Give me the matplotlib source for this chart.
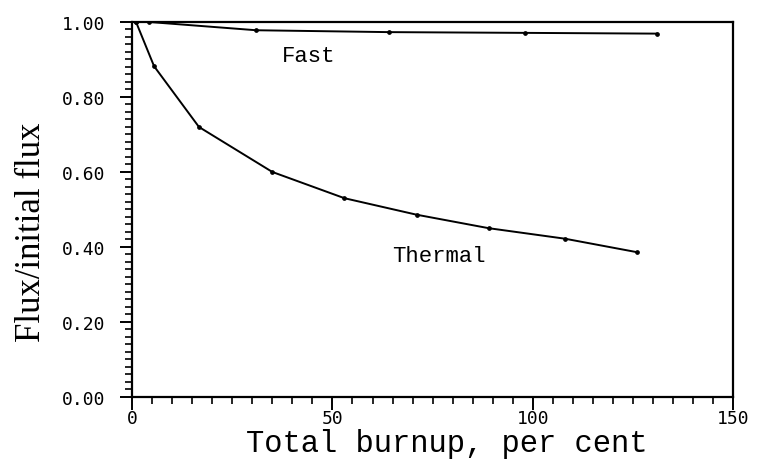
import matplotlib
matplotlib.use("Agg")
import matplotlib.pyplot as plt
from matplotlib.ticker import MultipleLocator, FormatStrFormatter

# Data
thermal_x = [1, 5.5, 16.7, 35, 53, 71, 89, 108, 126]
thermal_y = [1.00, 0.882, 0.720, 0.600, 0.530, 0.486, 0.450, 0.422, 0.386]
fast_x = [1, 4.3, 31, 64, 98, 131]
fast_y = [1.00, 1.00, 0.978, 0.973, 0.971, 0.969]

x_major = [0, 50, 100, 150]
y_major = [0.0, 0.2, 0.4, 0.6, 0.8, 1.0]

plt.rcParams["font.family"] = ["DejaVu Sans Mono"]
plt.rcParams["xtick.labelsize"] = 13
plt.rcParams["ytick.labelsize"] = 13

fig = plt.figure(figsize=(7.61, 4.60), dpi=100)
ax = fig.add_axes([0.1735, 0.135, 0.790, 0.815])

ax.plot(thermal_x, thermal_y, color="black", lw=1.4, marker="o", ms=2.4)
ax.plot(fast_x, fast_y, color="black", lw=1.4, marker="o", ms=2.4)

ax.set_xlim(0, 150)
ax.set_ylim(0, 1.0)
ax.set_xticks(x_major)
ax.set_yticks(y_major)
ax.xaxis.set_minor_locator(MultipleLocator(5))
ax.yaxis.set_minor_locator(MultipleLocator(0.02))
ax.yaxis.set_major_formatter(FormatStrFormatter("%.2f"))
ax.xaxis.set_major_formatter(FormatStrFormatter("%d"))

for s in ax.spines.values():
    s.set_linewidth(1.6)

ax.tick_params(which="major", direction="out", length=9, width=1.4,
               top=False, right=False)
ax.tick_params(which="minor", direction="out", length=5, width=1.2,
               top=False, right=False)
ax.tick_params(axis="y", which="major", pad=10)
ax.tick_params(axis="x", which="major", pad=0)

ax.set_xlabel("Total burnup, per cent", family="Liberation Mono",
              fontsize=22)
ax.xaxis.set_label_coords(0.524, -0.083)
ax.xaxis.label.set_va("top")
ax.set_ylabel("Flux/initial flux", family="Liberation Serif",
              fontsize=25)
ax.yaxis.set_label_coords(-0.14, 0.443)

ax.text(44, 0.91, "Fast", family="Liberation Mono", fontsize=16,
        ha="center", va="center")
ax.text(76.5, 0.376, "Thermal", family="Liberation Mono", fontsize=16,
        ha="center", va="center")

fig.savefig("out.png", dpi=100)
